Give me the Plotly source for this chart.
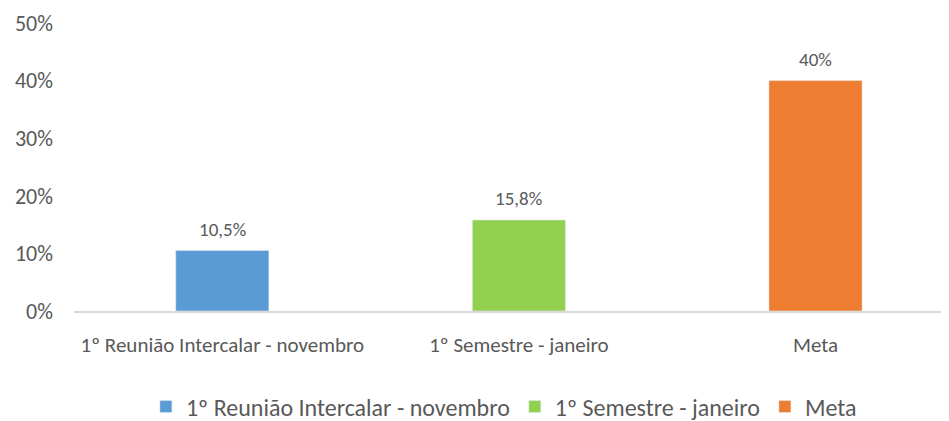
import plotly.graph_objects as go

categories = ["1º Reunião Intercalar - novembro", "1º Semestre - janeiro", "Meta"]
values = [0.105, 0.158, 0.40]
labels = ["10,5%", "15,8%", "40%"]
colors = ["#5B9BD5", "#92D050", "#ED7D31"]
y_ticks = [0, 0.1, 0.2, 0.3, 0.4, 0.5]
y_ticktext = ["0%", "10%", "20%", "30%", "40%", "50%"]

FONT = "Calibri, Carlito, Lato, sans-serif"
GRAY = "#595959"

fig = go.Figure()
for cat, val, col in zip(categories, values, colors):
    fig.add_trace(go.Bar(
        x=[cat], y=[val], name=cat, marker_color=col, width=0.314,
        hoverinfo="skip",
    ))

for cat, val, lab in zip(categories, values, labels):
    fig.add_annotation(x=cat, y=val, text=lab, showarrow=False,
                       yanchor="middle", yshift=21,
                       font=dict(family=FONT, size=19, color=GRAY))

fig.update_layout(
    width=941, height=413,
    margin=dict(l=66, r=0, t=15, b=110),
    paper_bgcolor="white", plot_bgcolor="white",
    barmode="overlay",
    font=dict(family=FONT, color=GRAY),
    showlegend=True,
    legend=dict(orientation="h", xref="container", x=0.527, xanchor="center",
                yref="container", y=0.034, yanchor="middle",
                font=dict(family=FONT, size=24, color=GRAY),
                itemwidth=30, traceorder="normal"),
    xaxis=dict(type="category", categoryorder="array", categoryarray=categories,
               range=[-0.5, 2.45], showline=True, linecolor="#D9D9D9", linewidth=2,
               showgrid=False, ticks="", ticklabelstandoff=14, automargin=False,
               tickfont=dict(family=FONT, size=21, color=GRAY)),
    yaxis=dict(range=[0, 0.5], tickvals=y_ticks, ticktext=y_ticktext,
               showgrid=False, zeroline=False, showline=False, ticks="",
               ticklabelstandoff=20, automargin=False,
               tickfont=dict(family=FONT, size=22, color=GRAY)),
)

fig.write_html("out.html")
